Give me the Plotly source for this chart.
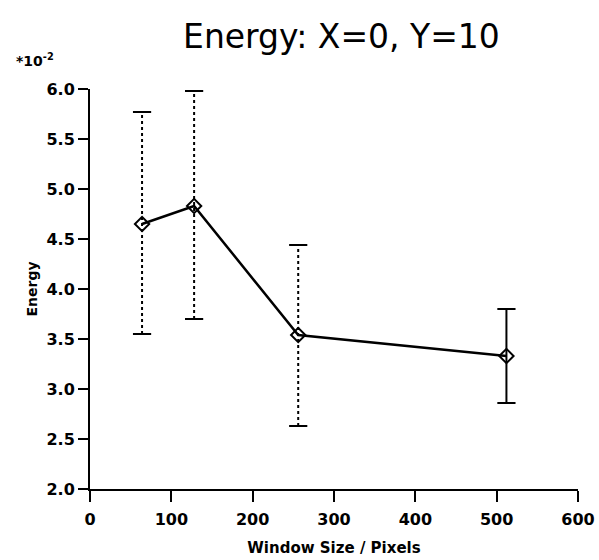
import plotly.graph_objects as go

window_size = [64, 128, 256, 512]
energy = [4.65, 4.83, 3.54, 3.33]
err_upper = [5.77, 5.98, 4.44, 3.80]
err_lower = [3.55, 3.70, 2.63, 2.86]
dotted_bar = [True, True, True, False]

x_ticks = [0, 100, 200, 300, 400, 500, 600]
y_ticks = [2.0, 2.5, 3.0, 3.5, 4.0, 4.5, 5.0, 5.5, 6.0]

fig = go.Figure()

FONT = "DejaVu Sans"

# error bars (vertical dotted lines + caps)
for dotted in (True, False):
    xs, ys, cx, cy = [], [], [], []
    for x, lo, hi, d in zip(window_size, err_lower, err_upper, dotted_bar):
        if d != dotted:
            continue
        xs += [x, x, None]
        ys += [lo, hi, None]
        cx += [x, x]
        cy += [lo, hi]
    if not xs:
        continue
    fig.add_trace(go.Scatter(x=xs, y=ys, mode="lines",
                             line=dict(color="black", width=2, dash="dot" if dotted else "solid"),
                             showlegend=False, hoverinfo="skip"))
    fig.add_trace(go.Scatter(x=cx, y=cy, mode="markers",
                             marker=dict(symbol="line-ew", size=13, line=dict(color="black", width=2)),
                             showlegend=False, hoverinfo="skip"))

fig.add_trace(go.Scatter(
    x=window_size, y=energy, mode="lines+markers",
    line=dict(color="black", width=2.5),
    marker=dict(symbol="diamond-open", size=11, color="black", line=dict(color="black", width=2)),
    showlegend=False))

fig.update_layout(
    width=599, height=560,
    margin=dict(l=90, r=21, t=89, b=71),
    plot_bgcolor="white", paper_bgcolor="white",
    title=dict(text="Energy: X=0, Y=10", x=0.57, xanchor="center", y=0.935, yanchor="middle",
               font=dict(family=FONT, size=33, color="black")),
    xaxis=dict(range=[0, 600], tickvals=x_ticks, ticktext=[str(v) for v in x_ticks],
               automargin=False,
               showgrid=False, zeroline=False, showline=True, linecolor="black", linewidth=2,
               ticks="outside", ticklen=11, tickwidth=2, tickcolor="black", ticklabelstandoff=4,
               tickfont=dict(family=FONT, size=16, color="black", weight="bold"),
               title=dict(text="Window Size / Pixels", standoff=14,
                          font=dict(family=FONT, size=15, color="black", weight="bold"))),
    yaxis=dict(range=[2, 6], tickvals=y_ticks, ticktext=[f"{v:.1f}" for v in y_ticks],
               automargin=False,
               showgrid=False, zeroline=False, showline=True, linecolor="black", linewidth=2,
               ticks="outside", ticklen=10, tickwidth=2, tickcolor="black",
               tickfont=dict(family=FONT, size=16, color="black", weight="bold"),
               title=dict(text="Energy", standoff=6,
                          font=dict(family=FONT, size=14, color="black", weight="bold"))),
    annotations=[dict(text="*10<sup>-2</sup>", xref="paper", yref="paper", x=-0.155, y=1.045,
                      xanchor="left", yanchor="bottom", showarrow=False,
                      font=dict(family=FONT, size=14, color="black", weight="bold"))],
)

fig.write_html("out.html")
